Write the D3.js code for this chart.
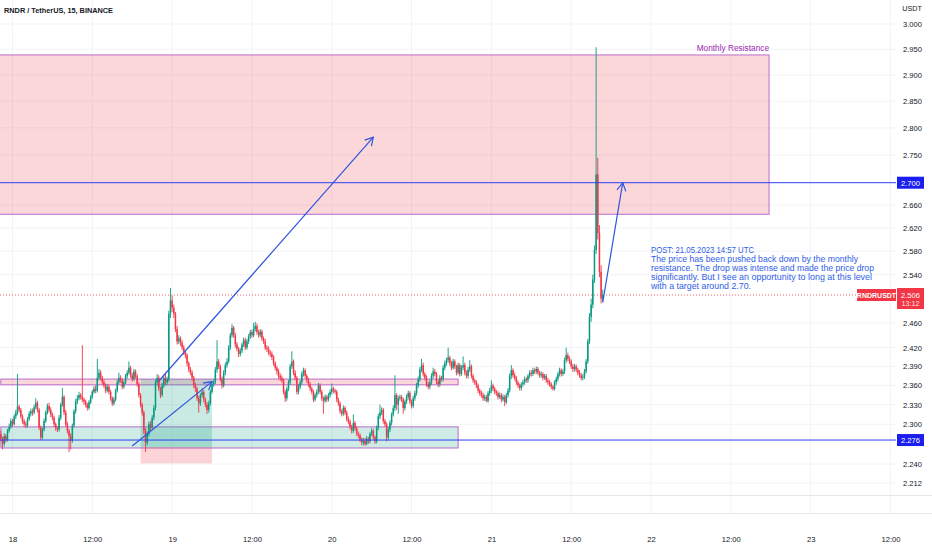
<!DOCTYPE html>
<html><head><meta charset="utf-8">
<script src="https://cdn.jsdelivr.net/npm/d3@7"></script>
<style>
html,body{margin:0;padding:0;background:#fff;}
svg{display:block;font-family:"Liberation Sans",Arial,sans-serif;}
</style></head><body>
<svg id="c" width="932" height="550"></svg>
<script>
// ---------------- DATA ----------------
const title = "RNDR / TetherUS, 15, BINANCE";
const symbol = "RNDRUSDT";
const lastPrice = 2.506;
const countdown = "13:12";
const firstCandleTime = Date.UTC(2023, 4, 17, 22, 0); // 15-minute candles
const firstOpen = 2.300;
const close = [
2.285,2.278,2.270,2.282,2.276,2.290,2.296,2.305,2.300,2.312,
2.318,2.327,2.322,2.312,2.305,2.300,2.298,2.308,2.316,2.320,
2.318,2.326,2.333,2.322,2.295,2.280,2.292,2.305,2.318,2.328,
2.322,2.315,2.310,2.300,2.294,2.292,2.310,2.330,2.342,2.318,
2.300,2.290,2.282,2.275,2.298,2.320,2.335,2.340,2.345,2.342,
2.338,2.335,2.330,2.325,2.334,2.342,2.350,2.355,2.352,2.372,
2.380,2.372,2.365,2.360,2.352,2.358,2.350,2.340,2.332,2.338,
2.352,2.365,2.372,2.368,2.358,2.365,2.375,2.380,2.388,2.376,
2.370,2.382,2.375,2.362,2.345,2.330,2.318,2.290,2.272,2.285,
2.300,2.295,2.310,2.325,2.365,2.372,2.355,2.345,2.360,2.372,
2.365,2.370,2.475,2.497,2.485,2.475,2.450,2.430,2.435,2.428,
2.420,2.412,2.408,2.395,2.385,2.380,2.372,2.360,2.355,2.340,
2.332,2.345,2.350,2.338,2.330,2.322,2.332,2.350,2.362,2.366,
2.385,2.398,2.390,2.370,2.360,2.380,2.392,2.398,2.420,2.440,
2.452,2.440,2.425,2.418,2.410,2.415,2.425,2.432,2.420,2.430,
2.438,2.445,2.440,2.450,2.455,2.445,2.440,2.446,2.435,2.430,
2.420,2.418,2.412,2.410,2.405,2.395,2.388,2.382,2.375,2.372,
2.368,2.350,2.340,2.355,2.365,2.390,2.398,2.380,2.372,2.350,
2.358,2.365,2.378,2.384,2.375,2.368,2.362,2.355,2.350,2.338,
2.345,2.350,2.360,2.350,2.340,2.336,2.342,2.338,2.345,2.350,
2.355,2.352,2.350,2.338,2.332,2.320,2.316,2.325,2.318,2.308,
2.304,2.296,2.290,2.302,2.294,2.286,2.283,2.277,2.272,2.275,
2.270,2.278,2.274,2.285,2.290,2.280,2.274,2.295,2.312,2.318,
2.322,2.305,2.300,2.280,2.292,2.302,2.315,2.325,2.345,2.330,
2.340,2.342,2.338,2.325,2.335,2.342,2.348,2.335,2.328,2.340,
2.348,2.360,2.370,2.385,2.392,2.378,2.372,2.362,2.358,2.365,
2.375,2.382,2.378,2.366,2.362,2.372,2.370,2.388,2.395,2.400,
2.404,2.395,2.388,2.398,2.390,2.380,2.392,2.378,2.388,2.392,
2.380,2.375,2.385,2.390,2.375,2.368,2.365,2.360,2.352,2.348,
2.345,2.340,2.342,2.336,2.348,2.352,2.360,2.355,2.350,2.348,
2.342,2.345,2.338,2.342,2.334,2.345,2.352,2.375,2.384,2.376,
2.372,2.365,2.360,2.356,2.362,2.365,2.370,2.368,2.375,2.380,
2.378,2.384,2.382,2.386,2.380,2.376,2.378,2.372,2.375,2.368,
2.365,2.362,2.358,2.355,2.365,2.370,2.378,2.384,2.378,2.382,
2.400,2.408,2.402,2.398,2.390,2.386,2.390,2.385,2.380,2.376,
2.372,2.374,2.382,2.398,2.430,2.470,2.490,2.532,2.582,2.715,
2.611,2.545,2.500,2.506
];
const high = [
2.345,2.290,2.281,2.286,2.285,2.293,2.301,2.309,2.308,2.315,
2.322,2.378,2.330,2.325,2.315,2.308,2.304,2.311,2.320,2.324,
2.324,2.330,2.340,2.336,2.325,2.298,2.295,2.309,2.321,2.332,
2.333,2.326,2.318,2.313,2.303,2.297,2.314,2.333,2.356,2.345,
2.322,2.304,2.293,2.286,2.301,2.323,2.339,2.345,2.350,2.348,
2.424,2.341,2.338,2.333,2.337,2.345,2.353,2.359,2.360,2.402,
2.386,2.384,2.375,2.369,2.363,2.362,2.361,2.353,2.343,2.342,
2.355,2.369,2.380,2.376,2.371,2.368,2.378,2.384,2.398,2.391,
2.380,2.386,2.385,2.378,2.365,2.348,2.333,2.321,2.294,2.289,
2.304,2.305,2.314,2.329,2.369,2.378,2.376,2.358,2.364,2.377,
2.380,2.374,2.480,2.518,2.505,2.490,2.478,2.455,2.440,2.438,
2.432,2.424,2.416,2.411,2.398,2.389,2.384,2.375,2.364,2.358,
2.344,2.348,2.356,2.353,2.341,2.334,2.336,2.353,2.366,2.370,
2.389,2.432,2.402,2.393,2.374,2.384,2.396,2.403,2.424,2.444,
2.458,2.455,2.444,2.429,2.421,2.419,2.428,2.436,2.436,2.434,
2.442,2.449,2.449,2.460,2.462,2.459,2.449,2.450,2.449,2.438,
2.434,2.424,2.422,2.416,2.414,2.408,2.398,2.391,2.386,2.379,
2.376,2.371,2.353,2.358,2.369,2.394,2.414,2.401,2.384,2.375,
2.362,2.369,2.382,2.388,2.387,2.378,2.372,2.365,2.358,2.353,
2.348,2.354,2.364,2.363,2.353,2.343,2.346,2.345,2.348,2.354,
2.363,2.358,2.355,2.353,2.341,2.335,2.323,2.329,2.328,2.321,
2.312,2.307,2.299,2.315,2.305,2.297,2.289,2.286,2.280,2.279,
2.279,2.282,2.281,2.288,2.294,2.293,2.283,2.298,2.316,2.330,
2.326,2.325,2.308,2.303,2.296,2.306,2.318,2.329,2.376,2.348,
2.344,2.346,2.345,2.341,2.338,2.346,2.352,2.351,2.338,2.344,
2.352,2.364,2.374,2.389,2.402,2.396,2.381,2.376,2.366,2.369,
2.379,2.388,2.386,2.381,2.369,2.376,2.375,2.392,2.399,2.404,
2.420,2.407,2.399,2.402,2.401,2.393,2.396,2.395,2.392,2.406,
2.396,2.384,2.389,2.400,2.393,2.378,2.371,2.368,2.363,2.355,
2.352,2.349,2.346,2.345,2.351,2.356,2.368,2.363,2.358,2.353,
2.351,2.349,2.348,2.346,2.345,2.348,2.356,2.379,2.392,2.387,
2.380,2.375,2.368,2.363,2.365,2.369,2.374,2.373,2.378,2.384,
2.384,2.388,2.387,2.390,2.389,2.383,2.382,2.381,2.378,2.378,
2.372,2.369,2.365,2.361,2.368,2.374,2.381,2.388,2.387,2.386,
2.404,2.420,2.412,2.406,2.401,2.394,2.394,2.393,2.388,2.384,
2.380,2.378,2.386,2.402,2.434,2.476,2.500,2.540,2.590,2.954,
2.745,2.625,2.556,2.515
];
const low = [
2.282,2.274,2.262,2.266,2.272,2.274,2.287,2.293,2.296,2.298,
2.308,2.314,2.318,2.309,2.301,2.296,2.294,2.295,2.305,2.312,
2.313,2.315,2.323,2.318,2.291,2.276,2.277,2.289,2.302,2.315,
2.318,2.311,2.306,2.296,2.290,2.288,2.289,2.306,2.327,2.314,
2.296,2.286,2.258,2.262,2.272,2.295,2.316,2.331,2.337,2.338,
2.334,2.330,2.326,2.321,2.322,2.331,2.339,2.347,2.348,2.349,
2.368,2.368,2.361,2.356,2.348,2.349,2.346,2.336,2.328,2.329,
2.335,2.349,2.362,2.364,2.354,2.355,2.362,2.371,2.377,2.372,
2.366,2.367,2.371,2.358,2.341,2.326,2.313,2.285,2.258,2.268,
2.281,2.290,2.292,2.306,2.321,2.360,2.351,2.340,2.342,2.356,
2.360,2.361,2.366,2.468,2.478,2.468,2.445,2.425,2.426,2.423,
2.416,2.408,2.403,2.390,2.381,2.376,2.367,2.356,2.350,2.336,
2.318,2.328,2.341,2.334,2.326,2.316,2.318,2.329,2.347,2.358,
2.362,2.380,2.386,2.366,2.355,2.357,2.376,2.388,2.395,2.416,
2.436,2.436,2.420,2.414,2.405,2.406,2.411,2.421,2.416,2.417,
2.426,2.434,2.436,2.437,2.446,2.441,2.436,2.437,2.431,2.426,
2.416,2.413,2.408,2.405,2.400,2.391,2.384,2.377,2.370,2.367,
2.364,2.346,2.334,2.336,2.351,2.361,2.386,2.376,2.368,2.346,
2.346,2.354,2.361,2.374,2.371,2.364,2.358,2.351,2.346,2.334,
2.335,2.341,2.347,2.346,2.336,2.316,2.333,2.334,2.335,2.341,
2.346,2.348,2.346,2.334,2.328,2.316,2.312,2.313,2.314,2.304,
2.300,2.292,2.286,2.287,2.290,2.282,2.279,2.273,2.268,2.268,
2.267,2.268,2.270,2.271,2.282,2.277,2.270,2.271,2.291,2.308,
2.314,2.301,2.296,2.274,2.277,2.288,2.298,2.312,2.320,2.322,
2.316,2.336,2.334,2.316,2.321,2.331,2.338,2.331,2.324,2.325,
2.336,2.344,2.356,2.366,2.381,2.374,2.368,2.358,2.354,2.354,
2.361,2.371,2.374,2.362,2.357,2.358,2.366,2.366,2.384,2.391,
2.396,2.391,2.384,2.385,2.386,2.376,2.377,2.374,2.375,2.384,
2.376,2.371,2.371,2.381,2.371,2.364,2.361,2.356,2.348,2.344,
2.341,2.336,2.336,2.334,2.333,2.344,2.348,2.351,2.346,2.344,
2.338,2.339,2.334,2.335,2.328,2.331,2.341,2.349,2.370,2.372,
2.368,2.361,2.356,2.352,2.352,2.358,2.361,2.364,2.364,2.371,
2.374,2.375,2.378,2.378,2.376,2.372,2.372,2.368,2.369,2.364,
2.361,2.358,2.354,2.352,2.352,2.361,2.366,2.374,2.374,2.375,
2.378,2.396,2.398,2.394,2.386,2.381,2.382,2.381,2.376,2.372,
2.368,2.368,2.370,2.379,2.394,2.426,2.462,2.484,2.526,2.575,
2.600,2.536,2.492,2.494
];
const priceTicks = [3.000,2.950,2.900,2.850,2.800,2.750,2.660,2.620,2.580,2.540,2.460,2.420,2.390,2.360,2.330,2.300,2.240,2.212];
const timeTicks = [[18,0],[18,12],[19,0],[19,12],[20,0],[20,12],[21,0],[21,12],[22,0],[22,12],[23,0],[23,12]];
const timeLabels = ["18","12:00","19","12:00","20","12:00","21","12:00","22","12:00","23","12:00"];
// drawings (time: [day, hour, minute], price)
const resistanceZone = {from:[17,20,0], to:[22,17,45], low:2.644, high:2.939, label:"Monthly Resistance"};
const upperBox = {from:[17,22,15], to:[20,19,0], low:2.361, high:2.370};
const lowerBox = {from:[17,22,15], to:[20,19,0], low:2.264, high:2.296};
const longPos = {from:[18,19,15], to:[19,6,0], entry:2.265, target:2.370, stop:2.241};
const levelLines = [2.700, 2.276];
const arrows = [
  {from:[18,18,0], p0:2.267, to:[19,6,0], p1:2.366},
  {from:[18,22,0], p0:2.367, to:[20,6,15], p1:2.783},
  {from:[21,16,45], p0:2.494, to:[21,19,45], p1:2.700}
];
const noteLines = [
  "POST: 21.05.2023 14:57 UTC",
  "The price has been pushed back down by the monthly",
  "resistance. The drop was intense and made the price drop",
  "significantly. But I see an opportunity to long at this level",
  "with a target around 2.70."
];
const noteAnchor = {at:[22,0,0], price:2.577};

// ---------------- CHART ----------------
const W = 932, H = 550, PR = 896, PB = 495;
const T = a => new Date(Date.UTC(2023, 4, a[0], a[1], a[2] || 0));
const x = d3.scaleUtc().domain([T([18,0]), T([22,0])]).range([12.5, 651]);
const y = d3.scaleLog().domain([2.212, 3.0]).range([483, 24]);

const svg = d3.select("#c");
svg.append("rect").attr("width", W).attr("height", H).attr("fill", "#fff");
const defs = svg.append("defs");
defs.append("clipPath").attr("id", "plot").append("rect").attr("x", 0).attr("y", 0).attr("width", PR).attr("height", PB);
defs.append("marker").attr("id", "ah").attr("viewBox", "-10 -6 12 12")
  .attr("markerWidth", 12).attr("markerHeight", 12).attr("markerUnits", "userSpaceOnUse")
  .attr("refX", 0).attr("refY", 0).attr("orient", "auto")
  .append("path").attr("d", "M-8,-4.5L0,0L-8,4.5").attr("fill", "none").attr("stroke", "#2f55e0").attr("stroke-width", 1.2);

// grid
const grid = svg.append("g");
grid.selectAll(".hg").data(priceTicks).join("line")
  .attr("x1", 0).attr("x2", PR).attr("y1", d => y(d)).attr("y2", d => y(d))
  .attr("stroke", "#f2f3f7").attr("stroke-width", 1);
grid.selectAll(".vg").data(timeTicks).join("line")
  .attr("x1", d => x(T(d))).attr("x2", d => x(T(d))).attr("y1", 0).attr("y2", 513)
  .attr("stroke", "#f2f3f7").attr("stroke-width", 1);
svg.append("line").attr("x1", 0).attr("x2", W).attr("y1", 495.5).attr("y2", 495.5).attr("stroke", "#e6e8ee");
svg.append("line").attr("x1", 0).attr("x2", W).attr("y1", 513.5).attr("y2", 513.5).attr("stroke", "#e6e8ee");

const plot = svg.append("g").attr("clip-path", "url(#plot)");

// zones
const PINK = "rgba(242,54,69,0.2)", TEAL = "rgba(8,153,129,0.2)", PURPLE = "#bb6bcb";
function zone(z, fill) {
  plot.append("rect")
    .attr("x", x(T(z.from))).attr("y", y(z.high))
    .attr("width", x(T(z.to)) - x(T(z.from))).attr("height", y(z.low) - y(z.high))
    .attr("fill", fill).attr("stroke", PURPLE).attr("stroke-width", 1);
}
zone(resistanceZone, PINK);
zone(upperBox, PINK);
zone(lowerBox, TEAL);
// long position
plot.append("rect").attr("x", x(T(longPos.from))).attr("y", y(longPos.target))
  .attr("width", x(T(longPos.to)) - x(T(longPos.from))).attr("height", y(longPos.entry) - y(longPos.target))
  .attr("fill", "rgba(8,153,129,0.22)");
plot.append("rect").attr("x", x(T(longPos.from))).attr("y", y(longPos.entry))
  .attr("width", x(T(longPos.to)) - x(T(longPos.from))).attr("height", y(longPos.stop) - y(longPos.entry))
  .attr("fill", "rgba(242,54,69,0.22)");

// candles
const UP = "#089981", DN = "#f23645";
const candles = close.map((c, i) => ({
  t: new Date(firstCandleTime + i * 15 * 60000),
  o: i ? close[i - 1] : firstOpen, h: high[i], l: low[i], c
}));
const cg = plot.append("g");
cg.selectAll("line").data(candles).join("line")
  .attr("x1", d => x(d.t)).attr("x2", d => x(d.t))
  .attr("y1", d => y(Math.max(d.h, d.o, d.c))).attr("y2", d => y(Math.min(d.l, d.o, d.c)))
  .attr("stroke", d => d.c >= d.o ? UP : DN).attr("stroke-width", 0.9);
cg.selectAll("rect").data(candles).join("rect")
  .attr("x", d => x(d.t) - 0.75).attr("width", 1.5)
  .attr("y", d => y(Math.max(d.o, d.c)))
  .attr("height", d => Math.max(1, Math.abs(y(d.o) - y(d.c))))
  .attr("fill", d => d.c >= d.o ? UP : DN);

// level lines
const BLUE = "#2b3ff0";
plot.selectAll(".lvl").data(levelLines).join("line")
  .attr("x1", 0).attr("x2", PR).attr("y1", d => y(d)).attr("y2", d => y(d))
  .attr("stroke", BLUE).attr("stroke-width", 1);
// current price line
plot.append("line").attr("x1", 0).attr("x2", PR).attr("y1", y(lastPrice)).attr("y2", y(lastPrice))
  .attr("stroke", DN).attr("stroke-width", 0.8).attr("stroke-dasharray", "1,2");

// arrows
plot.selectAll(".arr").data(arrows).join("line")
  .attr("x1", d => x(T(d.from))).attr("y1", d => y(d.p0))
  .attr("x2", d => x(T(d.to))).attr("y2", d => y(d.p1))
  .attr("stroke", "#2f55e0").attr("stroke-width", 1.2).attr("marker-end", "url(#ah)");

// texts
svg.append("text").attr("x", x(T(resistanceZone.to))).attr("y", y(resistanceZone.high) - 4)
  .attr("text-anchor", "end").attr("font-size", 8.3).attr("fill", "#9c27b0").text(resistanceZone.label);
const nx = x(T(noteAnchor.at)), ny = y(noteAnchor.price);
const noteWidths = [103, 207, 223, 221, 100];
svg.append("g").selectAll("text").data(noteLines).join("text")
  .attr("x", nx).attr("y", (d, i) => ny + i * 9)
  .attr("font-size", 8.4).attr("fill", "#2f5ee8")
  .attr("textLength", (d, i) => noteWidths[i]).attr("lengthAdjust", "spacingAndGlyphs")
  .text(d => d);
svg.append("text").attr("x", 4).attr("y", 13).attr("font-size", 8).attr("font-weight", "bold")
  .attr("fill", "#131722").attr("textLength", 109).attr("lengthAdjust", "spacingAndGlyphs").text(title);

// price axis
const ax = svg.append("g").attr("transform", "translate(899,0)")
  .call(d3.axisRight(y).tickValues(priceTicks).tickFormat(d3.format(".3f")).tickSize(0).tickPadding(4));
ax.select(".domain").remove();
ax.selectAll("text").attr("font-size", 7.6).attr("fill", "#131722").attr("font-family", "Liberation Sans, Arial, sans-serif");
svg.append("text").attr("x", 912).attr("y", 11).attr("text-anchor", "middle").attr("font-size", 7.2).attr("fill", "#131722").text("USDT");

// level labels
levelLines.forEach(p => {
  svg.append("rect").attr("x", 897).attr("y", y(p) - 6).attr("width", 27).attr("height", 12).attr("fill", "#1a1ff0");
  svg.append("text").attr("x", 910.5).attr("y", y(p) + 2.8).attr("text-anchor", "middle")
    .attr("font-size", 7.6).attr("fill", "#fff").text(d3.format(".3f")(p));
});
// last price labels
const ly = y(lastPrice);
svg.append("rect").attr("x", 857).attr("y", ly - 6).attr("width", 39).attr("height", 12).attr("fill", DN);
svg.append("text").attr("x", 876.5).attr("y", ly + 2.7).attr("text-anchor", "middle").attr("font-size", 7).attr("font-weight", "bold")
  .attr("fill", "#fff").text(symbol);
svg.append("rect").attr("x", 897).attr("y", ly - 7).attr("width", 27).attr("height", 21).attr("fill", DN);
svg.append("text").attr("x", 910.5).attr("y", ly + 2.8).attr("text-anchor", "middle").attr("font-size", 7.6).attr("fill", "#fff").text(d3.format(".3f")(lastPrice));
svg.append("text").attr("x", 910.5).attr("y", ly + 11).attr("text-anchor", "middle").attr("font-size", 7.2).attr("fill", "#fde2e4").text(countdown);

// time axis
const tx = svg.append("g").attr("transform", "translate(0,535)")
  .call(d3.axisBottom(x).tickValues(timeTicks.map(T)).tickFormat((d, i) => timeLabels[i]).tickSize(0).tickPadding(2));
tx.select(".domain").remove();
tx.selectAll("text").attr("font-size", 7.6).attr("fill", "#131722").attr("font-family", "Liberation Sans, Arial, sans-serif");
</script>
</body></html>
